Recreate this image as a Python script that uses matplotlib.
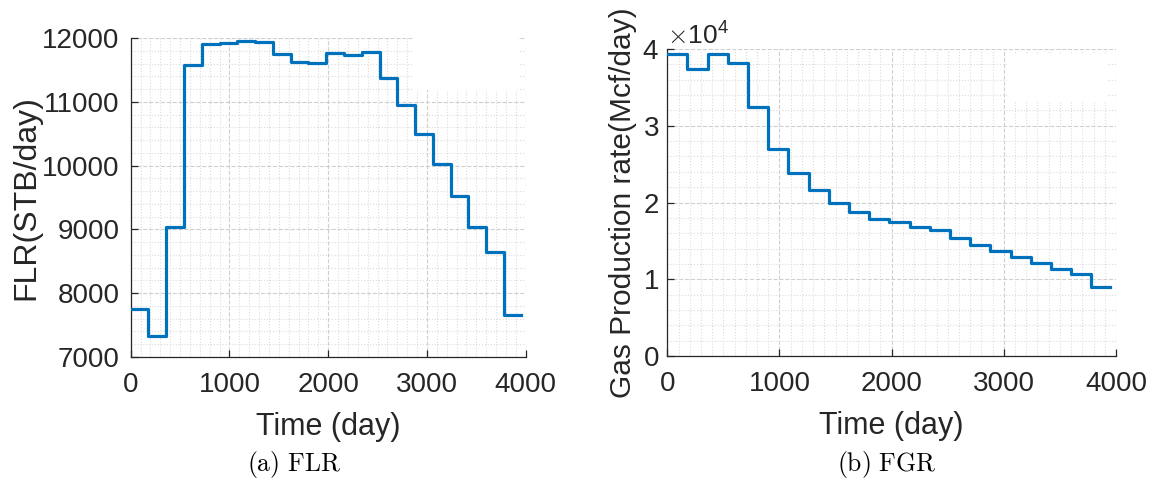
import matplotlib.pyplot as plt
from matplotlib.patches import Rectangle
from matplotlib.ticker import MultipleLocator

plt.rcParams['font.family'] = ['Liberation Sans', 'DejaVu Sans']
plt.rcParams['mathtext.fontset'] = 'cm'

# step start times (day); last value is the end of the final step
time = [0, 180, 360, 540, 720, 900, 1080, 1260, 1440, 1620, 1800,
        1980, 2160, 2340, 2520, 2700, 2880, 3060, 3240, 3420, 3600, 3780, 3950]

# field liquid rate (STB/day)
flr = [7750, 7330, 9030, 11580, 11900, 11920, 11950, 11930, 11750, 11620, 11610,
       11760, 11740, 11780, 11370, 10950, 10500, 10020, 9530, 9040, 8640, 7660]

# field gas rate (Mcf/day)
fgr = [39400, 37400, 39400, 38200, 32400, 27000, 23900, 21600, 20000, 18800, 17900,
       17500, 16800, 16400, 15400, 14500, 13700, 12900, 12100, 11300, 10650, 9050]

blue = '#0072BD'
dark = '#262626'


def style_axes(ax, ymajor, yminor):
    ax.xaxis.set_major_locator(MultipleLocator(1000))
    ax.xaxis.set_minor_locator(MultipleLocator(100))
    ax.yaxis.set_major_locator(MultipleLocator(ymajor))
    ax.yaxis.set_minor_locator(MultipleLocator(yminor))
    ax.grid(which='major', color='#cfcfcf', ls='--', lw=0.8)
    ax.grid(which='minor', color='#dcdcdc', ls=':', lw=0.8)
    ax.set_axisbelow(True)
    for s in ['top', 'right']:
        ax.spines[s].set_visible(False)
    for s in ['left', 'bottom']:
        ax.spines[s].set_color(dark)
        ax.spines[s].set_linewidth(0.9)
    ax.tick_params(which='major', direction='in', length=5, width=0.9,
                   colors=dark, labelsize=20)
    ax.tick_params(axis='x', pad=11)
    ax.tick_params(axis='y', pad=8)
    ax.tick_params(which='minor', length=0)
    ax.set_xlim(0, 4000)
    ax.set_xlabel('Time (day)', fontsize=22, color=dark, labelpad=10)


fig = plt.figure(figsize=(11.5, 4.8), dpi=100)
ax1 = fig.add_axes([130.7 / 1150, 1 - 357 / 480, 395 / 1150, 319 / 480])
ax2 = fig.add_axes([667.3 / 1150, 1 - 356 / 480, 448.7 / 1150, 307 / 480])

# (a) FLR
ax1.step(time, flr + [flr[-1]], where='post', color=blue, lw=2.3, zorder=3)
style_axes(ax1, 1000, 200)
ax1.set_ylim(7000, 12000)
ax1.set_ylabel('FLR(STB/day)', fontsize=23, color=dark)
ax1.yaxis.set_label_coords(-0.225, 0.5)
ax1.add_patch(Rectangle((0.715, 0.837), 0.265, 0.163, transform=ax1.transAxes,
                        facecolor='white', edgecolor='none', zorder=2))

# (b) FGR
ax2.step(time, fgr + [fgr[-1]], where='post', color=blue, lw=2.3, zorder=3)
style_axes(ax2, 10000, 2000)
ax2.tick_params(axis='y', pad=6)
ax2.set_ylim(0, 40000)
ax2.ticklabel_format(axis='y', style='sci', scilimits=(4, 4), useMathText=True)
off = ax2.yaxis.get_offset_text()
off.set_fontsize(19)
off.set_color(dark)
off.set_family('Liberation Sans')
ax2.set_ylabel('Gas Production rate(Mcf/day)', fontsize=21.5, color=dark)
ax2.yaxis.set_label_coords(-0.068, 0.5)
ax2.add_patch(Rectangle((0.757, 0.827), 0.223, 0.153, transform=ax2.transAxes,
                        facecolor='white', edgecolor='none', zorder=2))

# sub-captions
fig.text(294 / 1150, 1 - 464 / 480, r'$\mathrm{(a)\ FLR}$', fontsize=18.5,
         ha='center', va='center')
fig.text(887 / 1150, 1 - 464 / 480, r'$\mathrm{(b)\ FGR}$', fontsize=18.5,
         ha='center', va='center')

fig.savefig('out.png', dpi=100)
